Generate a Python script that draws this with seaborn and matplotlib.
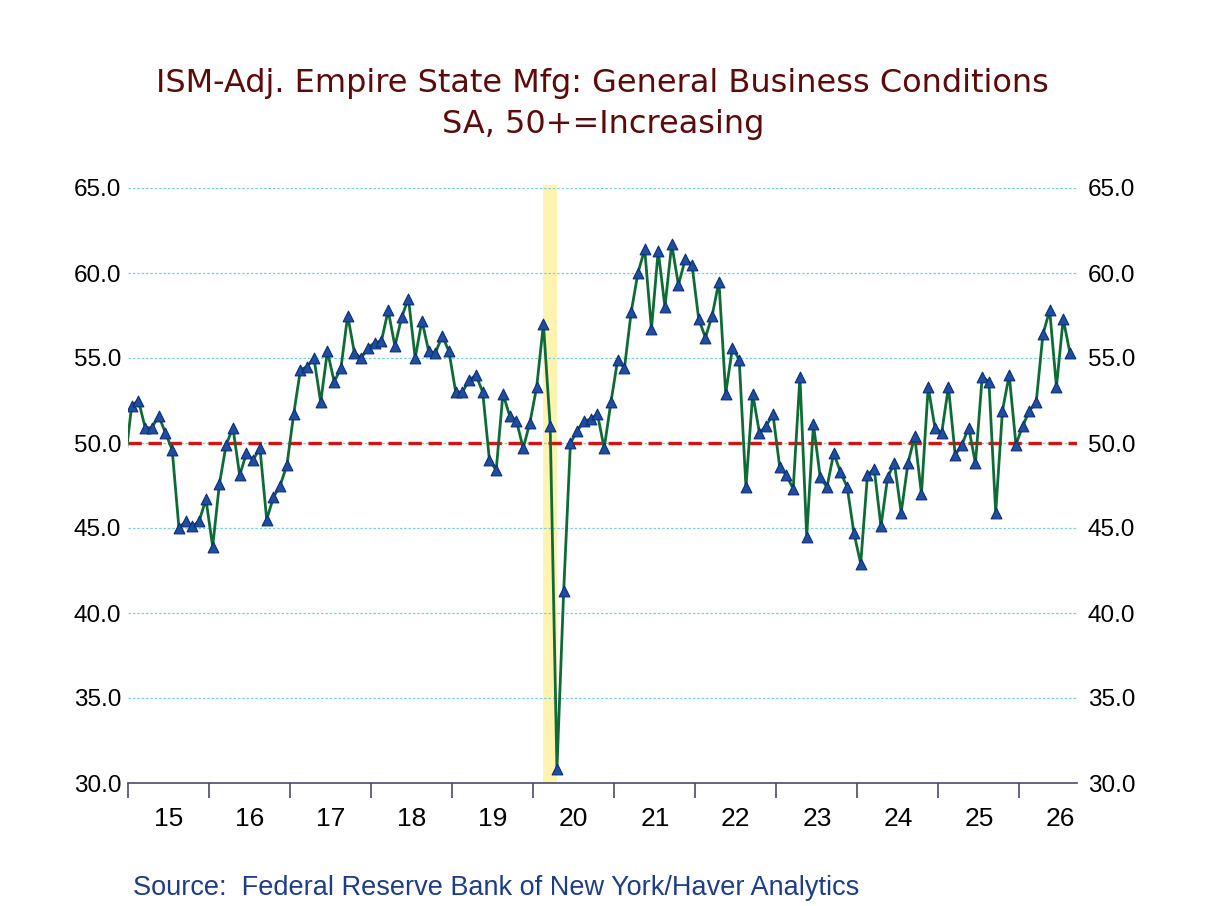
import numpy as np
import pandas as pd
import matplotlib
matplotlib.use("Agg")
import matplotlib.pyplot as plt
import seaborn as sns

# monthly readings, Jan 2015 .. Aug 2026
dec_2014 = 48.8
y2015 = [52.2, 52.5, 50.9, 50.9, 51.6, 50.6, 49.6, 45.0, 45.4, 45.1, 45.4, 46.7]
y2016 = [43.9, 47.6, 49.9, 50.9, 48.1, 49.4, 49.0, 49.7, 45.5, 46.8, 47.5, 48.7]
y2017 = [51.7, 54.3, 54.5, 55.0, 52.4, 55.4, 53.6, 54.4, 57.5, 55.3, 55.0, 55.6]
y2018 = [55.9, 56.0, 57.8, 55.7, 57.4, 58.5, 55.0, 57.2, 55.4, 55.3, 56.3, 55.4]
y2019 = [53.0, 53.0, 53.7, 54.0, 53.0, 49.0, 48.4, 52.9, 51.6, 51.3, 49.7, 51.2]
y2020 = [53.3, 57.0, 51.0, 30.8, 41.3, 50.0, 50.7, 51.3, 51.4, 51.7, 49.7, 52.4]
y2021 = [54.9, 54.4, 57.7, 60.0, 61.4, 56.7, 61.3, 58.0, 61.7, 59.3, 60.8, 60.5]
y2022 = [57.3, 56.2, 57.5, 59.5, 52.9, 55.6, 54.9, 47.4, 52.9, 50.6, 51.0, 51.7]
y2023 = [48.6, 48.1, 47.3, 53.9, 44.5, 51.1, 48.0, 47.4, 49.4, 48.3, 47.4, 44.7]
y2024 = [42.9, 48.1, 48.5, 45.1, 48.0, 48.8, 45.9, 48.8, 50.4, 47.0, 53.3, 50.9]
y2025 = [50.6, 53.3, 49.3, 49.9, 50.9, 48.8, 53.9, 53.6, 45.9, 51.9, 54.0, 49.9]
y2026 = [51.0, 51.9, 52.4, 56.4, 57.8, 53.3, 57.3, 55.3]

year_labels = ["15", "16", "17", "18", "19", "20", "21", "22", "23", "24", "25", "26"]
recession = ("2020-02", "2020-04")

values = (y2015 + y2016 + y2017 + y2018 + y2019 + y2020 + y2021 + y2022
          + y2023 + y2024 + y2025 + y2026)
dates = pd.period_range("2015-01", periods=len(values), freq="M")
df = pd.DataFrame({"date": dates, "value": values})
# x in months since Jan 2015, points sit mid-month
df["x"] = np.arange(len(df)) + 0.5
line_df = pd.concat([pd.DataFrame({"x": [-0.5], "value": [dec_2014]}),
                     df[["x", "value"]]], ignore_index=True)

sns.set_style("white")
plt.rcParams["font.family"] = ["Liberation Sans", "DejaVu Sans"]

fig = plt.figure(figsize=(12.08, 9.06), dpi=100)
ax = fig.add_axes([128.3 / 1208, 1 - 783 / 906, (1076.7 - 128.3) / 1208, (783 - 188) / 906])

# recession shading
r0 = (pd.Period(recession[0], "M") - dates[0]).n + 0.5
r1 = (pd.Period(recession[1], "M") - dates[0]).n + 0.5
ax.axvspan(r0, r1, ymin=0, ymax=1.005, color="#FFF3B0", lw=0, zorder=0, clip_on=False)

for v in range(35, 66, 5):
    ax.axhline(v, color="#7CCFD8", lw=0.9, ls=(0, (2, 1.5)), zorder=1)
ax.axhline(50, color="#D41414", lw=2.4, ls=(0, (4, 2)), zorder=2)

sns.lineplot(data=line_df, x="x", y="value", ax=ax, color="#0F6B35",
             lw=2.0, zorder=3)
sns.scatterplot(data=df, x="x", y="value", ax=ax, marker="^", s=60,
                color="#1F4F9C", edgecolor="#0B2C80", linewidth=0.8, zorder=4)

ax.set_xlim(0, len(values) + 0.5)
ax.set_ylim(30, 65)
ax.set_xlabel("")
ax.set_ylabel("")

ax.set_xticks(np.arange(0, 12 * len(year_labels), 12))
ax.set_xticklabels([])
ax.set_xticks(np.arange(6, 12 * len(year_labels), 12), minor=True)
ax.set_xticklabels(year_labels, minor=True)
ax.tick_params(axis="x", which="major", length=11, width=1.2, color="#4A4A6A",
               direction="out", bottom=True)
ax.tick_params(axis="x", which="minor", length=0, pad=17, labelsize=19, labelcolor="black")

yt = np.arange(30, 66, 5)
ax.set_yticks(yt)
ax.set_yticklabels([f"{v:.1f}" for v in yt])
ax.tick_params(axis="y", length=0, pad=5, labelsize=17.5, labelcolor="black")

ax2 = ax.twinx()
ax2.set_ylim(30, 65)
ax2.set_yticks(yt)
ax2.set_yticklabels([f"{v:.1f}" for v in yt])
ax2.tick_params(axis="y", length=0, pad=8, labelsize=17.5, labelcolor="black")

for a in (ax, ax2):
    for s in ("top", "left", "right", "bottom"):
        a.spines[s].set_visible(False)
ax.spines["bottom"].set_visible(True)
ax.spines["bottom"].set_color("#4A4A6A")
ax.spines["bottom"].set_linewidth(1.2)
ax.grid(False)
ax2.grid(False)

fig.text(0.499, 1 - 92 / 906, "ISM-Adj. Empire State Mfg: General Business Conditions",
         ha="center", va="baseline", fontsize=23, color="#5C0A0A", family="DejaVu Sans")
fig.text(0.499, 1 - 133 / 906, "SA, 50+=Increasing",
         ha="center", va="baseline", fontsize=23, color="#5C0A0A", family="DejaVu Sans")
fig.text(133 / 1208, 1 - 895 / 906, "Source:  Federal Reserve Bank of New York/Haver Analytics",
         ha="left", va="baseline", fontsize=19.5, color="#1F3C88")

fig.savefig("out.png", dpi=100)
